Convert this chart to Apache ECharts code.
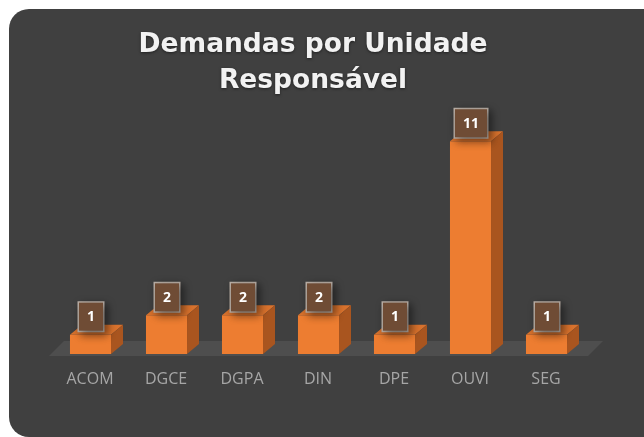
<!DOCTYPE html>
<html>
<head>
<meta charset="utf-8">
<title>Demandas por Unidade Responsável</title>
<script src="https://cdn.jsdelivr.net/npm/echarts@6.0.0/dist/echarts.min.js"></script>
<style>
  html, body { margin: 0; padding: 0; background: #fff; overflow: hidden; }
  #panel {
    position: absolute; left: 9px; top: 9px; width: 660px; height: 428px;
    background: #404040; border-radius: 20px;
  }
  #chart { position: absolute; left: 0; top: 0; width: 644px; height: 437px; }
</style>
</head>
<body>
<div id="panel"></div>
<div id="chart"></div>
<script>
// Demandas por unidade — colunas 3D (estilo Excel) desenhadas com séries custom
const categories = ['ACOM', 'DGCE', 'DGPA', 'DIN', 'DPE', 'OUVI', 'SEG']
const demandas = [1, 2, 2, 2, 1, 11, 1]

const FRONT = '#ed7d31'
const TOP = '#d8722d'
const SIDE = '#a9551f'
const FLOOR = '#4e4e4e'
const DX = 12, DY = -10   // profundidade da coluna

function renderFloor(params, api) {
  const cs = params.coordSys
  const y0 = api.coord([0, 0])[1]
  const left = cs.x, right = cs.x + cs.width
  return {
    type: 'polygon',
    shape: { points: [[left - 3, y0 + 2], [right + 4, y0 + 2], [right + 19, y0 - 13], [left + 12, y0 - 13]] },
    style: { fill: FLOOR },
    silent: true,
  }
}

function renderBar(params, api) {
  const idx = api.value(0)
  const val = api.value(1)
  const base = api.coord([idx, 0])
  const top = api.coord([idx, val])
  const w = api.size([1, 0])[0] * 0.54
  const x0 = base[0] - w / 2 + 0.5, x1 = x0 + w
  const yb = base[1], yt = top[1]
  return {
    type: 'group',
    children: [
      { type: 'rect', shape: { x: x0, y: yt, width: w, height: yb - yt }, style: { fill: FRONT } },
      { type: 'polygon', shape: { points: [[x0, yt], [x1, yt], [x1 + DX, yt + DY], [x0 + DX, yt + DY]] }, style: { fill: TOP } },
      { type: 'polygon', shape: { points: [[x1, yt], [x1 + DX, yt + DY], [x1 + DX, yb + DY], [x1, yb]] }, style: { fill: SIDE } },
      {
        type: 'text',
        z2: 10,
        style: {
          text: String(val),
          x: (x0 + x1) / 2 + 0.5,
          y: yt - 4,
          align: 'center',
          verticalAlign: 'bottom',
          fill: '#ffffff',
          fontFamily: '"Open Sans", sans-serif',
          fontWeight: 'bold',
          fontSize: 14,
          lineHeight: 15,
          backgroundColor: '#6f4c35',
          borderColor: '#b9aea5',
          borderWidth: 1.5,
          padding: [7, 8, 6, 8],
          shadowColor: 'rgba(0,0,0,0.45)',
          shadowBlur: 8,
          shadowOffsetX: 3,
          shadowOffsetY: 3,
        },
      },
    ],
  }
}

const chart = echarts.init(document.getElementById('chart'), null, { renderer: 'canvas' })
chart.setOption({
  backgroundColor: 'transparent',
  animation: false,
  graphic: [{
    type: 'text',
    x: 313,
    y: 27,
    style: {
      text: 'Demandas por Unidade\nResponsável',
      align: 'center',
      verticalAlign: 'top',
      fill: '#f2f2f2',
      fontFamily: '"DejaVu Sans", sans-serif',
      fontWeight: 'bold',
      fontSize: 26.5,
      lineHeight: 36,
      textShadowColor: 'rgba(0,0,0,0.5)',
      textShadowBlur: 3,
      textShadowOffsetY: 1,
    },
  }],
  grid: { left: 52, right: 60, top: 122, bottom: 83 },
  xAxis: {
    type: 'category',
    data: categories,
    axisLine: { show: false },
    axisTick: { show: false },
    axisLabel: { color: '#a6a6a6', fontSize: 16, fontFamily: '"Open Sans", sans-serif', margin: 17 },
  },
  yAxis: { type: 'value', min: 0, max: 12, show: false, splitLine: { show: false } },
  series: [
    { type: 'custom', z: 1, renderItem: renderFloor, data: [[0, 0]], silent: true },
    { type: 'custom', z: 2, renderItem: renderBar, encode: { x: 0, y: 1 }, data: demandas.map((v, i) => [i, v]) },
  ],
})
</script>
</body>
</html>
